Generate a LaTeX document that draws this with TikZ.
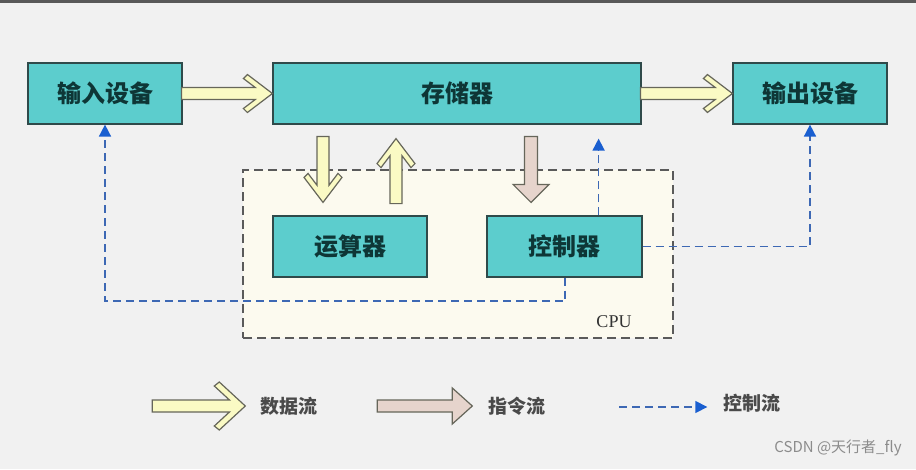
\documentclass[tikz,border=0pt]{standalone}
\usepackage{fontspec}
\usetikzlibrary{arrows.meta,calc}
\newfontfamily\cjk{Noto Sans CJK SC}
\newfontfamily\cpufont{Liberation Serif}
\definecolor{bgcol}{HTML}{F1F1F1}
\definecolor{boxfill}{HTML}{5CCDCD}
\definecolor{boxline}{HTML}{2F4A4A}
\definecolor{boxtext}{HTML}{0E3636}
\definecolor{cpufill}{HTML}{FCFAEF}
\definecolor{cpuline}{HTML}{5A5A5A}
\definecolor{datafill}{HTML}{FAFAC4}
\definecolor{arrline}{HTML}{66665A}
\definecolor{insfill}{HTML}{E6D4CC}
\definecolor{ctlline}{HTML}{3D68B4}
\definecolor{ctlhead}{HTML}{1A5FD0}
\definecolor{legtext}{HTML}{4A4A4A}
\tikzset{
  unitbox/.style={draw=boxline, line width=1.2pt, fill=boxfill, inner sep=0pt,
    minimum height=61pt, text=boxtext, font=\cjk\bfseries\fontsize{24}{24}\selectfont},
  cpubox/.style={draw=cpuline, line width=1.4pt, dash pattern=on 9pt off 5pt, fill=cpufill,
    inner sep=0pt, minimum width=430pt, minimum height=168pt},
  dataarrow/.style={draw=arrline, line width=1.2pt, fill=datafill, line join=miter},
  insarrow/.style={draw=arrline, line width=1.2pt, fill=insfill, line join=miter},
  ctlflow/.style={draw=ctlline, line width=1.6pt, dash pattern=on 8pt off 5pt,
    -{Triangle[width=12pt,length=12pt,color=ctlhead]}},
  legendlabel/.style={inner sep=0pt, text=legtext, font=\cjk\bfseries\fontsize{19}{19}\selectfont},
}
% chevron data arrow: #1 tip, #2 angle, #3 length, #4 Px, #5 Py, #6 Qx, #7 Qy
\newcommand\chevarrow[7]{%
  \pgfmathsetmacro\chevrx{#6-(#7-6)*#4/#5}%
  \draw[dataarrow, shift={(#1)}, rotate=#2]
    (-#3,6) -- (-\chevrx,6) -- (-#6,#7) -- (-#4,#5) -- (0,0) -- (-#4,-#5)
    -- (-#6,-#7) -- (-\chevrx,-6) -- (-#3,-6) -- cycle;}
% block instruction arrow: #1 tip, #2 angle, #3 length, #4 head length, #5 head half width, #6 shaft half width
\newcommand\blockarrow[6]{%
  \draw[insarrow, shift={(#1)}, rotate=#2]
    (-#3,#6) -- (-#4,#6) -- (-#4,#5) -- (0,0) -- (-#4,-#5) -- (-#4,-#6)
    -- (-#3,-#6) -- cycle;}
\begin{document}
\begin{tikzpicture}[x=1pt,y=-1pt]
\useasboundingbox (0,0) rectangle (916,469);
\fill[bgcol] (0,0) rectangle (916,469);
\fill[black!65] (0,0) rectangle (916,2.5);

% CPU region
\node[cpubox] (cpu) at (458,254) {};
\node[inner sep=0pt, text=black!80, font=\cpufont\fontsize{18}{18}\selectfont] (cpulabel) at (614,322) {CPU};

% units
\node[unitbox, minimum width=154pt] (in) at (105,93.5) {输入设备};
\node[unitbox, minimum width=368pt] (mem) at (457,93.5) {存储器};
\node[unitbox, minimum width=154pt] (out) at (810,93.5) {输出设备};
\node[unitbox, minimum width=154pt] (alu) at (350,246.5) {运算器};
\node[unitbox, minimum width=155pt] (ctrl) at (564.5,246.5) {控制器};

% data flow arrows
\chevarrow{mem.west}{0}{91}{25}{19}{29}{15}
\chevarrow{out.west}{0}{92}{25}{19}{29}{15}
\coordinate (aluin) at ($(alu.north)+(-27,-13)$);
\chevarrow{aluin}{-90}{66}{25}{19}{29}{15}
\coordinate (memin) at ($(mem.south)+(-61,14)$);
\chevarrow{memin}{90}{65}{25}{19}{29}{15}

% instruction flow arrow
\coordinate (ctrlin) at ($(ctrl.north)+(-33.5,-13)$);
\blockarrow{ctrlin}{-90}{66}{18}{18}{6.5}

% control flow
\coordinate (ctlmem) at ($(mem.south east)+(-43,14)$);
\draw[ctlflow] (ctrl.north -| ctlmem) -- (ctlmem);
\draw[ctlflow] ($(ctrl.south)+(0.5,0)$) -- ($(ctrl.south)+(0.5,23.5)$) -| (in.south);
\draw[ctlflow] (ctrl.east) -| (out.south);

% legend
\node[legendlabel] (ldata) at (289,406) {数据流};
\node[legendlabel] (lins) at (517,406) {指令流};
\node[legendlabel] (lctl) at (752,403) {控制流};
\coordinate (ldatatip) at ($(ldata.west)+(-15,0)$);
\chevarrow{ldatatip}{0}{93}{26}{24}{31}{20}
\coordinate (linstip) at ($(lins.west)+(-16,0)$);
\blockarrow{linstip}{0}{95}{20}{18}{6}
\coordinate (lctltip) at ($(lctl.west)+(-16,4)$);
\coordinate (lctltail) at ($(lctltip)+(-88,0)$);
\draw[ctlflow] (lctltail) -- (lctltip);

% watermark
\node[inner sep=0pt, text=black!45, font=\cjk\fontsize{15}{15}\selectfont] (wm) at (838,448) {CSDN @天行者\_fly};
\end{tikzpicture}
\end{document}
